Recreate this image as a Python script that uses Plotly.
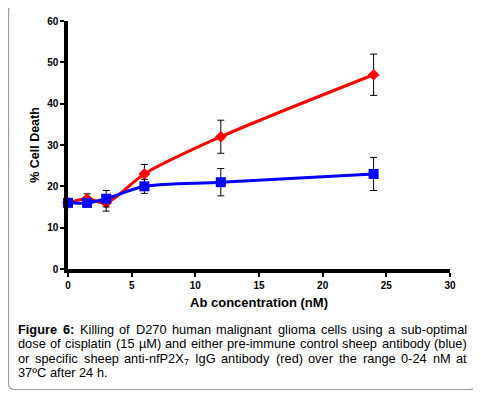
import re
import plotly.graph_objects as go

conc = [0, 1.5, 3, 6, 12, 24]
red_vals = [16, 17, 16, 23, 32, 47]
red_err = [0.6, 1.2, 2.0, 2.3, 4.0, 5.0]
blue_vals = [16, 16, 17, 20, 21, 23]
blue_err = [0.6, 1.0, 2.0, 1.7, 3.3, 4.0]
x_ticks = [0, 5, 10, 15, 20, 25, 30]
y_ticks = [0, 10, 20, 30, 40, 50, 60]

caption_lines = [
    "<b>Figure</b> <b>6:</b> Killing of D270 human malignant glioma cells using a sub-optimal",
    "dose of cisplatin (15 µM) and either pre-immune control sheep antibody (blue)",
    "or specific sheep anti-nfP2X<sub>7</sub> IgG antibody (red) over the range 0-24 nM at",
    "37ºC after 24 h.",
]

# page body has an 8px margin; work in target-page pixel coordinates
OFF = 8
W, H = 481 - OFF, 395 - OFF
PL, PR, PT, PB = 68, 450, 21, 269  # plot area in target page pixels
ML, MR, MT, MB = PL - OFF, W - (PR - OFF), PT - OFF, H - (PB - OFF)
PW, PH = W - ML - MR, H - MT - MB

def px(x):
    return (x - OFF - ML) / PW

def py(y):
    return (H - MB - (y - OFF)) / PH

fig = go.Figure()
fig.add_trace(go.Scatter(
    x=conc, y=red_vals, mode="lines+markers",
    line=dict(color="#ff0000", width=3, shape="spline", smoothing=0.8),
    marker=dict(symbol="diamond", size=9, color="#ff0000"),
    error_y=dict(type="data", array=red_err, color="black", thickness=1, width=3.5),
    showlegend=False, cliponaxis=False,
))
fig.add_trace(go.Scatter(
    x=conc, y=blue_vals, mode="lines+markers",
    line=dict(color="#0000ff", width=3, shape="spline", smoothing=0.8),
    marker=dict(symbol="square", size=10, color="#0000ff"),
    error_y=dict(type="data", array=blue_err, color="black", thickness=1, width=3.5),
    showlegend=False, cliponaxis=False,
))

font_b = "Liberation Sans, Arial, sans-serif"

fig.update_xaxes(
    range=[0, 30], tickvals=x_ticks, showgrid=False, zeroline=False, automargin=False,
    showline=True, linecolor="black", linewidth=3.5,
    ticks="outside", ticklen=4, tickwidth=2, tickcolor="black",
    tickfont=dict(family=font_b, size=10, color="black", weight="bold"),
    title=dict(text="<b>Ab concentration (nM)</b>", font=dict(family=font_b, size=13, color="black"), standoff=9),
)
fig.update_yaxes(
    range=[0, 60], tickvals=y_ticks, showgrid=False, zeroline=False, automargin=False,
    showline=True, linecolor="black", linewidth=3.5,
    ticks="outside", ticklen=4, tickwidth=2, tickcolor="black",
    tickfont=dict(family=font_b, size=10, color="black", weight="bold"),
    title=dict(text="<b>% Cell Death</b>", font=dict(family=font_b, size=12.5, color="black"), standoff=6),
)

# ---- justified caption (Arial / Liberation Sans advance widths, 1/1000 em)
REG = {' ': 278, '(': 333, ')': 333, '-': 333, '.': 278, ':': 278, 'µ': 556, 'º': 365}
for c in '0123456789':
    REG[c] = 556
REG.update(dict(zip('ABCDEFGHIJKLMNOPQRSTUVWXYZ',
                    [667, 667, 722, 722, 667, 611, 778, 722, 278, 500, 667, 556, 833,
                     722, 778, 667, 778, 722, 667, 611, 722, 667, 944, 667, 667, 611])))
REG.update(dict(zip('abcdefghijklmnopqrstuvwxyz',
                    [556, 556, 500, 556, 556, 278, 556, 556, 222, 222, 500, 222, 833,
                     556, 556, 556, 556, 333, 500, 278, 556, 500, 722, 500, 500, 500])))
BOLD = dict(REG)
BOLD.update({'F': 611, 'i': 278, 'g': 611, 'u': 611, 'r': 389, 'e': 556, ':': 333})

FS = 12.8
SMALL = 0.7
CAP_X0, CAP_X1 = 17, 466
line_y = [329, 343.5, 358, 372]

def segs(word):
    out = []
    for m in re.finditer(r"<(b|sub|sup)>(.*?)</\1>|([^<]+)", word):
        if m.group(3):
            out.append((m.group(3), "r"))
        else:
            out.append((m.group(2), m.group(1)))
    return out

def seg_w(text, style):
    table = BOLD if style == "b" else REG
    scale = SMALL if style in ("sub", "sup") else 1.0
    return sum(table.get(ch, 556) for ch in text) / 1000 * FS * scale

annotations = []
for li, (line, yy) in enumerate(zip(caption_lines, line_y)):
    words = [segs(w) for w in line.split(" ")]
    wws = [sum(seg_w(t, s) for t, s in wd) for wd in words]
    last = li == len(caption_lines) - 1
    if last or len(words) < 2:
        gap = REG[' '] / 1000 * FS
    else:
        gap = (CAP_X1 - CAP_X0 - sum(wws)) / (len(words) - 1)
    x = CAP_X0
    for wd, ww in zip(words, wws):
        xs = x
        for t, s in wd:
            size = FS * (SMALL if s in ("sub", "sup") else 1.0)
            dy = 3.5 if s == "sub" else (-4 if s == "sup" else 0)
            txt = f"<b>{t}</b>" if s == "b" else t
            annotations.append(dict(
                text=txt, xref="paper", yref="paper", x=px(xs), y=py(yy + dy),
                xanchor="left", yanchor="middle", showarrow=False, align="left",
                borderpad=0,
                font=dict(family=font_b, size=size, color="black"),
            ))
            xs += seg_w(t, s)
        x += ww + gap

shapes = []
x0, x1, y0, y1, r = px(8.5), px(475.5), py(5.5), py(389.5), 6
rx, ry = r / PW, r / PH
path = (f"M {x0+rx},{y0} L {x1-rx},{y0} Q {x1},{y0} {x1},{y0-ry} "
        f"L {x1},{y1+ry} Q {x1},{y1} {x1-rx},{y1} "
        f"L {x0+rx},{y1} Q {x0},{y1} {x0},{y1+ry} "
        f"L {x0},{y0-ry} Q {x0},{y0} {x0+rx},{y0} Z")
shapes.append(dict(type="path", xref="paper", yref="paper", path=path,
                   line=dict(color="#9a9a9a", width=1.2), layer="below"))

fig.update_layout(
    width=W, height=H, margin=dict(l=ML, r=MR, t=MT, b=MB),
    paper_bgcolor="white", plot_bgcolor="white",
    annotations=annotations, shapes=shapes,
)

fig.write_html("out.html")
